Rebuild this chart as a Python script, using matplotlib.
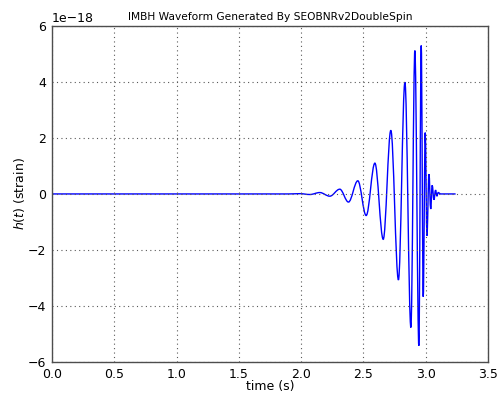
import matplotlib
matplotlib.use("Agg")
import matplotlib.pyplot as plt
from matplotlib.path import Path
from matplotlib.patches import PathPatch

# Waveform extrema (time in s, strain in units of 1e-18)
times = [0.0, 1.90, 1.99, 2.07, 2.15, 2.23, 2.31, 2.38, 2.455, 2.522, 2.592,
         2.659, 2.72, 2.781, 2.833, 2.881, 2.913, 2.945, 2.964, 2.98, 2.996,
         3.01, 3.026, 3.04, 3.052, 3.066, 3.079, 3.09, 3.10, 3.12, 3.24]
strain = [0.0, 0.0, 0.01, -0.02, 0.05, -0.08, 0.17, -0.29, 0.47, -0.77, 1.10,
          -1.62, 2.27, -3.07, 3.99, -4.77, 5.12, -5.42, 5.30, -3.67, 2.19,
          -1.49, 0.71, -0.54, 0.31, -0.21, 0.14, -0.08, 0.05, 0.0, 0.0]
scale = 1e-18

title = "IMBH Waveform Generated By SEOBNRv2DoubleSpin"
xlabel = "time (s)"
ylabel = "$h(t)$ (strain)"

plt.rcParams['font.family'] = ['DejaVu Sans']
fig = plt.figure(figsize=(5.0, 3.93), dpi=100)
ax = fig.add_axes([0.104, 0.079, 0.872, 0.855])

# smooth curve through extrema (horizontal tangents at each extremum)
verts = [(times[0], strain[0] * scale)]
codes = [Path.MOVETO]
k = 0.36
for i in range(len(times) - 1):
    t0, t1 = times[i], times[i + 1]
    v0, v1 = strain[i] * scale, strain[i + 1] * scale
    dt = t1 - t0
    verts += [(t0 + k * dt, v0), (t1 - k * dt, v1), (t1, v1)]
    codes += [Path.CURVE4, Path.CURVE4, Path.CURVE4]
patch = PathPatch(Path(verts, codes), fill=False, edgecolor='#0000ff', linewidth=1.0)
ax.add_patch(patch)

ax.set_xlim(0, 3.5)
ax.set_ylim(-6e-18, 6e-18)
ax.set_xticks([0.0, 0.5, 1.0, 1.5, 2.0, 2.5, 3.0, 3.5])
ax.set_yticks([-6e-18, -4e-18, -2e-18, 0, 2e-18, 4e-18, 6e-18])
ax.grid(True, linestyle=(0, (1, 3)), color='0.35', linewidth=0.8)
ax.tick_params(direction='in', top=True, right=True, labelsize=9, length=0, pad=4)
ax.ticklabel_format(axis='y', style='sci', scilimits=(0, 0))
ax.yaxis.get_offset_text().set_fontsize(9)
for s in ax.spines.values():
    s.set_linewidth(1.0)
    s.set_color('0.3')

ax.set_title(title, fontsize=7.7, pad=4)
ax.set_xlabel(xlabel, fontsize=9, labelpad=-0.5)
ax.set_ylabel(ylabel, fontsize=9, labelpad=1)

fig.savefig("out.png", dpi=100, facecolor='white')
